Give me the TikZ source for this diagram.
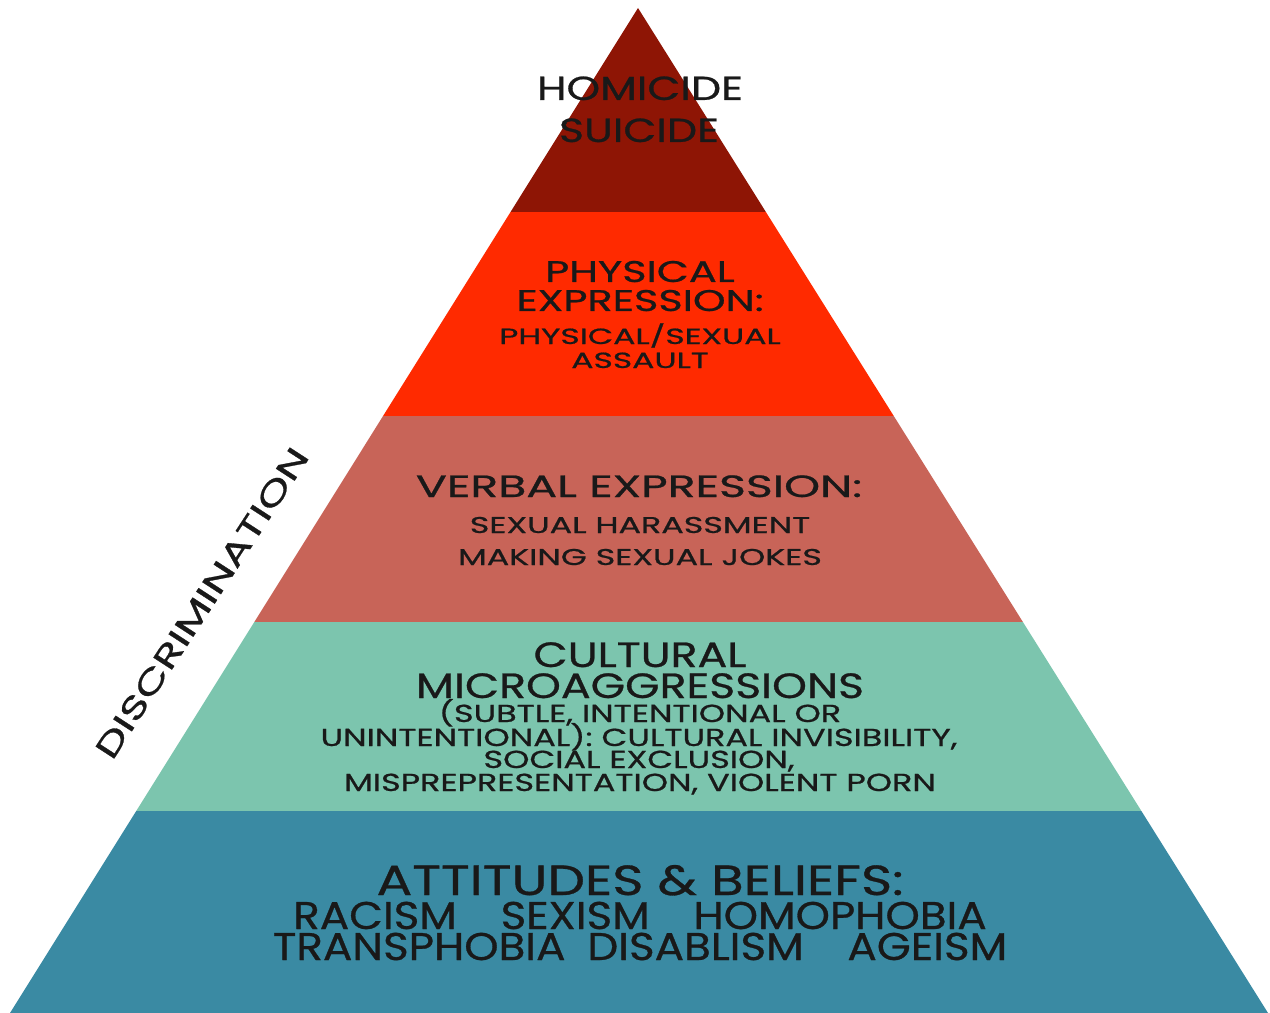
\documentclass[tikz,border=0pt]{standalone}
\usepackage{fontspec}
\setmainfont{Poppins}[UprightFeatures={FakeBold=0.7}]
\usepackage{tikz}

\definecolor{topred}{HTML}{8E1505}
\definecolor{brightred}{HTML}{FF2A00}
\definecolor{dullred}{HTML}{C86458}
\definecolor{mint}{HTML}{7CC5AE}
\definecolor{seablue}{HTML}{3A8AA3}

\tikzset{
  big/.style={anchor=base, inner sep=0pt, text=black!90, font=\fontsize{19}{21}\selectfont},
  small/.style={anchor=base, inner sep=0pt, text=black!90, font=\fontsize{13}{15}\selectfont},
}

\begin{document}
\begin{tikzpicture}[x=0.02cm, y=-0.02cm]
\useasboundingbox (0,0) rectangle (1270,1013);

% the pyramid, cut into five bands
\begin{scope}
  \clip (638,8) -- (10,1013) -- (1268,1013) -- cycle;
  \fill[topred] (0,0) rectangle (1270,212);
  \fill[brightred] (0,212) rectangle (1270,416);
  \fill[dullred] (0,416) rectangle (1270,622);
  \fill[mint] (0,622) rectangle (1270,811);
  \fill[seablue] (0,811) rectangle (1270,1013);
\end{scope}

% top band
\node[big, xscale=1.28] (homicide) at (640,100) {HOMICIDE};
\node[big, xscale=1.28] (suicide) at (639,142) {SUICIDE};

% second band
\node[big, font=\fontsize{17}{19}\selectfont, xscale=1.39] (physical) at (640,282) {PHYSICAL};
\node[big, font=\fontsize{17}{19}\selectfont, xscale=1.39] (expression) at (640,311) {EXPRESSION:};
\node[small, font=\fontsize{12.5}{14}\selectfont, xscale=1.5] (assault1) at (640,344) {PHYSICAL/SEXUAL};
\node[small, font=\fontsize{12.5}{14}\selectfont, xscale=1.5] (assault2) at (640,368) {ASSAULT};

% third band
\node[big, font=\fontsize{17.5}{19}\selectfont, xscale=1.49] (verbal) at (639,497) {VERBAL EXPRESSION:};
\node[small, xscale=1.46] (harass) at (640,533) {SEXUAL HARASSMENT};
\node[small, xscale=1.46] (jokes) at (640,565) {MAKING SEXUAL JOKES};

% fourth band
\node[big, font=\fontsize{20}{22}\selectfont, xscale=1.26] (cultural) at (640,667) {CULTURAL};
\node[big, font=\fontsize{20}{22}\selectfont, xscale=1.26] (micro) at (640,698) {MICROAGGRESSIONS};
\node[small, font=\fontsize{14}{16}\selectfont, xscale=1.36] (subtle) at (640,722) {(SUBTLE, INTENTIONAL OR};
\node[small, font=\fontsize{14}{16}\selectfont, xscale=1.36] (unint) at (639,746) {UNINTENTIONAL): CULTURAL INVISIBILITY,};
\node[small, font=\fontsize{14}{16}\selectfont, xscale=1.36] (social) at (639,768) {SOCIAL EXCLUSION,};
\node[small, font=\fontsize{14}{16}\selectfont, xscale=1.36] (misrep) at (640,791) {MISPREPRESENTATION, VIOLENT PORN};

% bottom band
\node[big, font=\fontsize{24}{26}\selectfont, xscale=1.26] (attitudes) at (640,895) {ATTITUDES \& BELIEFS:};
\node[big, font=\fontsize{22}{24}\selectfont, xscale=1.13] (isms1) at (640,929) {RACISM\quad SEXISM\quad HOMOPHOBIA};
\node[big, font=\fontsize{22}{24}\selectfont, xscale=1.13] (isms2) at (640,960) {TRANSPHOBIA\enspace DISABLISM\quad AGEISM};

% label along the left side
\node[big, anchor=center, font=\fontsize{18}{20}\selectfont, rotate=57, xscale=1.45] (discr) at (202,603) {DISCRIMINATION};

\end{tikzpicture}
\end{document}
